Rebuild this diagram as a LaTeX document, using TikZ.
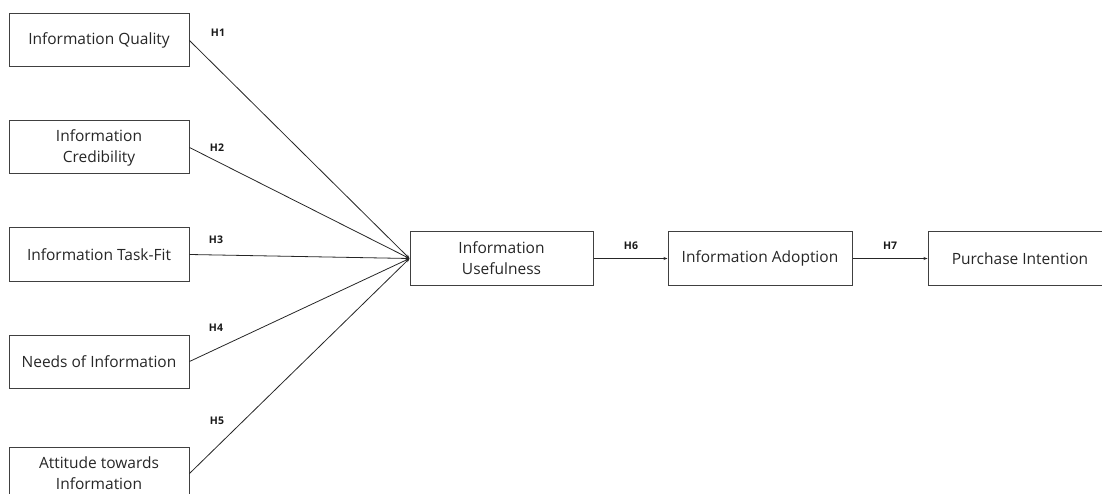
\documentclass[tikz,border=0pt]{standalone}
\usepackage{fontspec}
\setmainfont{Open Sans}
\usetikzlibrary{arrows.meta}
\begin{document}
\begin{tikzpicture}[x=1pt,y=-1pt,
  box/.style={draw=black!75,line width=1pt,minimum width=180pt,minimum height=53pt,inner sep=2pt,align=center,font=\fontsize{15.5}{21}\selectfont,text=black!85},
  hlabel/.style={font=\bfseries\fontsize{10.5}{11}\selectfont,text=black!90},
  conn/.style={draw=black!85,line width=0.8pt,-{Stealth[length=4pt,width=3pt]}}]
\useasboundingbox (0,0) rectangle (1102,494);
\clip (0,0) rectangle (1102,494);
\node[box] (iq) at (99,40.5) {Information Quality};
\node[box] (ic) at (99,147.5) {Information\\Credibility};
\node[box] (it) at (99,254.5) {Information Task-Fit};
\node[box] (ni) at (99,361.5) {Needs of Information};
\node[box] (at) at (99,473.5) {Attitude towards\\Information};
\node[box,minimum width=183pt] (iu) at (501.5,258.5) {Information\\Usefulness};
\node[box,minimum width=184pt] (ia) at (760,258.5) {Information Adoption};
\node[box,minimum width=184pt] (pi) at (1020,258.5) {Purchase Intention};
\draw[conn] (iq.east) -- (iu.west);
\draw[conn] (ic.east) -- (iu.west);
\draw[conn] (it.east) -- (iu.west);
\draw[conn] (ni.east) -- (iu.west);
\draw[conn] (at.east) -- (iu.west);
\draw[conn] (iu.east) -- (ia.west);
\draw[conn] (ia.east) -- (pi.west);
\node[hlabel] (h1) at (218,33) {H1};
\node[hlabel] (h2) at (217,148) {H2};
\node[hlabel] (h3) at (216,240) {H3};
\node[hlabel] (h4) at (216,328) {H4};
\node[hlabel] (h5) at (217,421) {H5};
\node[hlabel] (h6) at (631,246) {H6};
\node[hlabel] (h7) at (890,246) {H7};
\end{tikzpicture}
\end{document}
